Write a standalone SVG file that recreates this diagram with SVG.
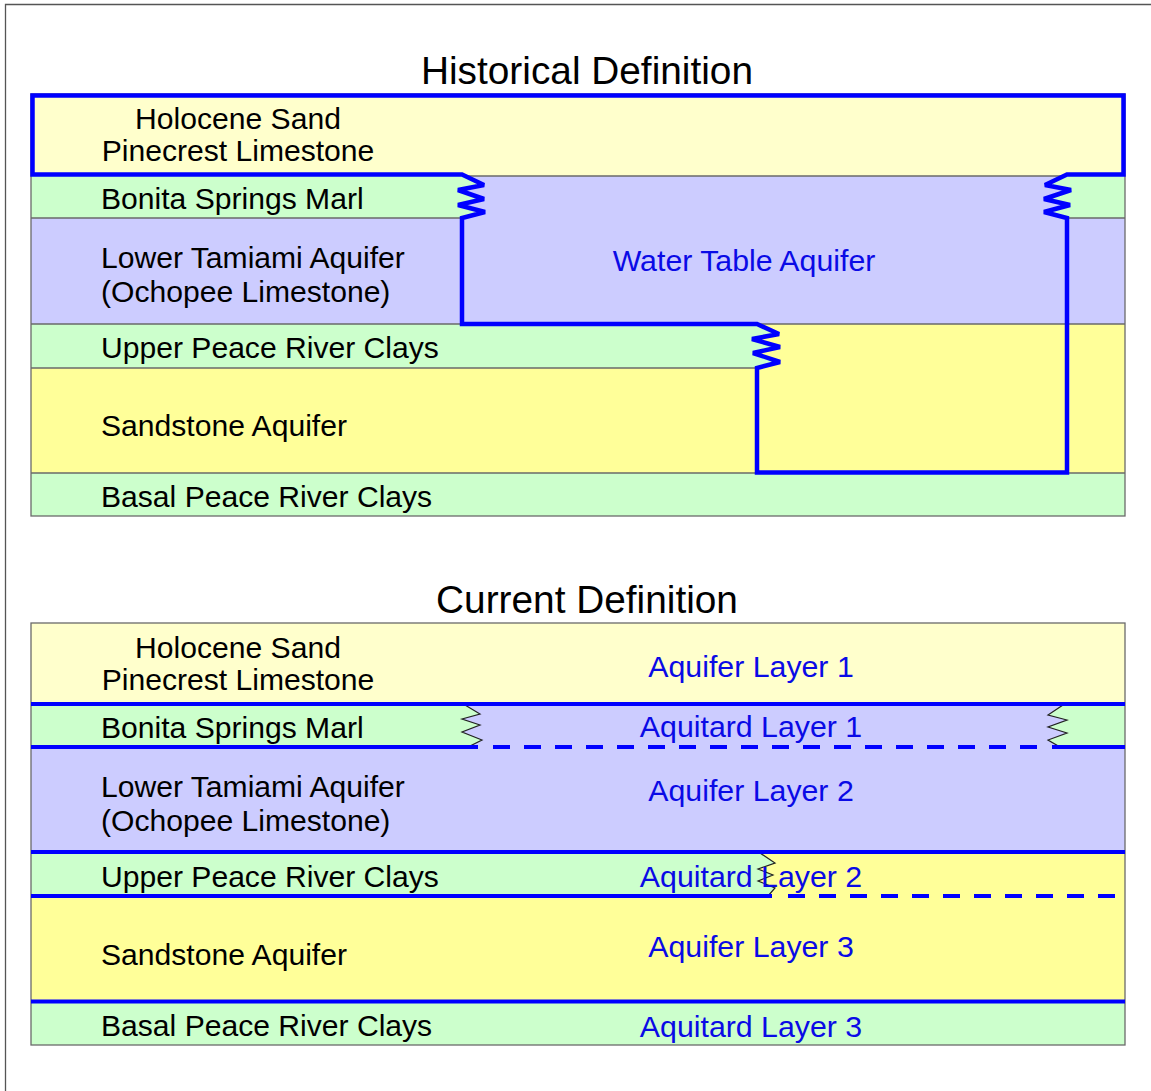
<svg xmlns="http://www.w3.org/2000/svg" width="1151" height="1091" viewBox="0 0 1151 1091">
<style>
.t{font-family:"Liberation Sans",Arial,sans-serif;font-size:30.1px;fill:#000}
.b{font-family:"Liberation Sans",Arial,sans-serif;font-size:30.3px;fill:#0A0AE6}
.h{font-family:"Liberation Sans",Arial,sans-serif;font-size:38.8px;fill:#000}
.g{stroke:#6A6A6A;stroke-width:1.3;fill:none}
.bl{stroke:#0000FF;stroke-width:4.5;fill:none;stroke-linejoin:miter;stroke-miterlimit:2}
.bd{stroke:#0000FF;stroke-width:4;fill:none}
.zz{stroke:#222;stroke-width:1.2;fill:none}
.ly{fill:#FFFFCC}.gr{fill:#CCFFCC}.lv{fill:#CCCCFF}.yl{fill:#FFFF99}
</style>
<rect width="1151" height="1091" fill="#fff"/>
<path d="M5.5,1091 L5.5,4.5 L1151,4.5" stroke="#555" stroke-width="1.3" fill="none"/>

<g id="historical">
<text class="h" x="587" y="84" text-anchor="middle">Historical Definition</text>
<g id="h-holocene"><rect class="ly" x="31" y="94" width="1094" height="82"/></g>
<g id="h-bonita"><rect class="gr" x="31" y="176" width="1094" height="42"/></g>
<g id="h-tamiami"><rect class="lv" x="31" y="218" width="1094" height="106"/></g>
<g id="h-uprc"><rect class="gr" x="31" y="324" width="1094" height="44"/></g>
<g id="h-sandstone"><rect class="yl" x="31" y="368" width="1094" height="105"/></g>
<g id="h-basal"><rect class="gr" x="31" y="473" width="1094" height="43"/></g>
<g id="h-watertable">
<polygon class="lv" points="462,176 484,185 458,190 484,199 458,205 485,212 462,218 462,324 1067,324 1067,218 1044,212 1070,205 1044,199 1071,190 1045,185 1067,176"/>
<polygon class="yl" points="757,324 779,334 752,339 780,347 753,353 780,362 757,368 757,473 1125,473 1125,324"/>
</g>
<g id="h-lines">
<line class="g" x1="462" y1="176" x2="1067" y2="176"/>
<line class="g" x1="31" y1="218" x2="462" y2="218"/>
<line class="g" x1="1067" y1="218" x2="1125" y2="218"/>
<line class="g" x1="31" y1="324" x2="462" y2="324"/>
<line class="g" x1="757" y1="324" x2="1125" y2="324"/>
<line class="g" x1="31" y1="368" x2="757" y2="368"/>
<line class="g" x1="31" y1="473" x2="757" y2="473"/>
<line class="g" x1="1067" y1="473" x2="1125" y2="473"/>
<rect class="g" x="31" y="94" width="1094" height="422"/>
</g>
<g id="h-outline">
<path class="bl" d="M462,174.5 L32.5,174.5 L32.5,95.5 L1123.5,95.5 L1123.5,174.5 L1067,174.5 L1045,185 L1071,190 L1044,199 L1070,205 L1044,212 L1067,218 L1067,472.5 L757,472.5 L757,368 L780,362 L753,353 L780,347 L752,339 L779,334 L757,324 L462,324 L462,218 L485,212 L458,205 L484,199 L458,190 L484,185 Z"/>
</g>
<g id="h-labels">
<text class="t" x="238" y="129" text-anchor="middle">Holocene Sand</text>
<text class="t" x="238" y="161" text-anchor="middle">Pinecrest Limestone</text>
<text class="t" x="101" y="209">Bonita Springs Marl</text>
<text class="t" x="101" y="268">Lower Tamiami Aquifer</text>
<text class="t" x="101" y="302">(Ochopee Limestone)</text>
<text class="b" x="744" y="271" text-anchor="middle">Water Table Aquifer</text>
<text class="t" x="101" y="358">Upper Peace River Clays</text>
<text class="t" x="101" y="436">Sandstone Aquifer</text>
<text class="t" x="101" y="507">Basal Peace River Clays</text>
</g>
</g>

<g id="current">
<text class="h" x="587" y="613" text-anchor="middle">Current Definition</text>
<g id="c-holocene"><rect class="ly" x="31" y="623" width="1094" height="81"/></g>
<g id="c-bonita"><rect class="gr" x="31" y="704" width="1094" height="43"/>
<polygon class="lv" points="465,705 480,714 462,719 480,725 462,732 482,740 468,747 1060,747 1048,740 1067,733 1048,727 1067,720 1048,715 1063,705"/></g>
<g id="c-tamiami"><rect class="lv" x="31" y="747" width="1094" height="105"/></g>
<g id="c-uprc"><rect class="gr" x="31" y="852" width="1094" height="44"/>
<polygon class="yl" points="760,853 775,863 758,869 773,875 758,881 775,888 768,896 1125,896 1125,853"/></g>
<g id="c-sandstone"><rect class="yl" x="31" y="896" width="1094" height="106"/></g>
<g id="c-basal"><rect class="gr" x="31" y="1002" width="1094" height="43"/></g>
<rect class="g" x="31" y="623" width="1094" height="422"/>
<g id="c-zigzags">
<polyline class="zz" points="465,705 480,714 462,719 480,725 462,732 482,740 468,747"/>
<polyline class="zz" points="1063,705 1048,715 1067,720 1048,727 1067,733 1048,740 1060,747"/>
<polyline class="zz" points="760,853 775,863 758,869 773,875 758,881 775,888 768,896"/>
</g>
<g id="c-boundaries">
<line class="bd" x1="31" y1="704" x2="1125" y2="704"/>
<line class="bd" x1="31" y1="747" x2="478" y2="747"/>
<line class="bd" x1="493" y1="747" x2="1037" y2="747" stroke-dasharray="17 14"/>
<line class="bd" x1="1052" y1="747" x2="1125" y2="747"/>
<line class="bd" x1="31" y1="852" x2="1125" y2="852"/>
<line class="bd" x1="31" y1="896" x2="772" y2="896"/>
<line class="bd" x1="788" y1="896" x2="1115" y2="896" stroke-dasharray="17 14"/>
<line class="bd" x1="31" y1="1001.5" x2="1125" y2="1001.5"/>
</g>
<g id="c-labels">
<text class="t" x="238" y="658" text-anchor="middle">Holocene Sand</text>
<text class="t" x="238" y="690" text-anchor="middle">Pinecrest Limestone</text>
<text class="t" x="101" y="738">Bonita Springs Marl</text>
<text class="t" x="101" y="797">Lower Tamiami Aquifer</text>
<text class="t" x="101" y="831">(Ochopee Limestone)</text>
<text class="t" x="101" y="887">Upper Peace River Clays</text>
<text class="t" x="101" y="965">Sandstone Aquifer</text>
<text class="t" x="101" y="1036">Basal Peace River Clays</text>
<text class="b" x="751" y="677" text-anchor="middle">Aquifer Layer 1</text>
<text class="b" x="751" y="737" text-anchor="middle">Aquitard Layer 1</text>
<text class="b" x="751" y="801" text-anchor="middle">Aquifer Layer 2</text>
<text class="b" x="751" y="887" text-anchor="middle">Aquitard Layer 2</text>
<text class="b" x="751" y="957" text-anchor="middle">Aquifer Layer 3</text>
<text class="b" x="751" y="1037" text-anchor="middle">Aquitard Layer 3</text>
</g>
</g>
</svg>
